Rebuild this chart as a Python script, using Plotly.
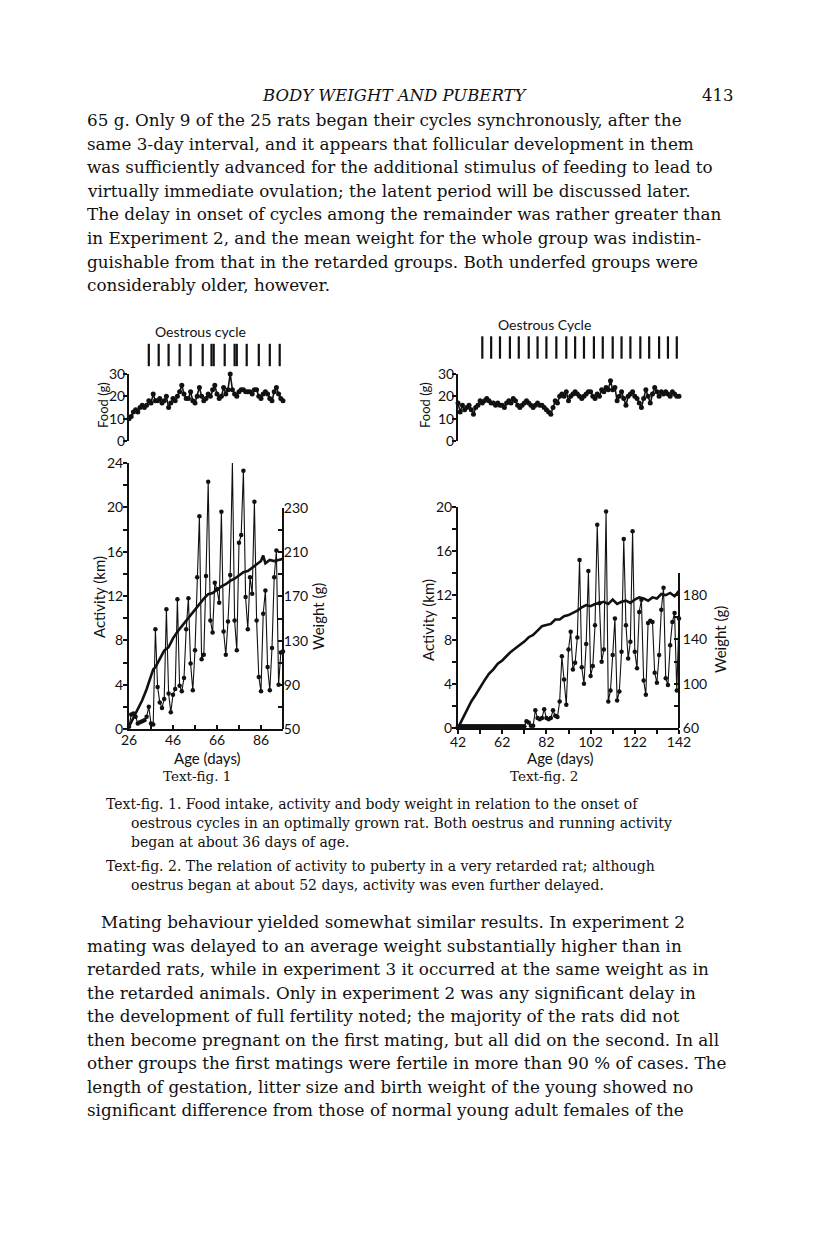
import plotly.graph_objects as go

W, H = 816, 1249
OFF = 8  # the page body margin shifts the whole figure by 8 px


def fx(px):
    return (px - OFF) / W


def fy(py):
    return 1 - (py - OFF) / H


# ---------------- Text-fig. 1 (optimally grown rat) ----------------
age1 = list(range(26, 97))
food1 = [10, 11, 13, 14, 13, 15, 16, 15, 16, 18,
         17, 21, 18, 18, 19, 17, 18, 20, 15, 17,
         19, 18, 20, 22, 25, 21, 19, 19, 22, 18,
         17, 20, 24, 20, 18, 19, 21, 20, 23, 25,
         21, 19, 20, 24, 21, 23, 30, 23, 21, 20,
         22, 23, 23, 22, 22, 22, 21, 23, 23, 20,
         19, 21, 22, 21, 19, 18, 22, 24, 21, 19,
         18]
act1 = [0.2, 1.3, 1.4, 1.1, 0.5, 0.6, 0.7, 0.8, 1.1, 2.0,
        0.5, 0.4, 9.0, 3.8, 2.4, 1.9, 2.7, 10.8, 3.2, 1.5,
        3.1, 3.6, 11.7, 3.9, 3.4, 4.6, 9.0, 11.8, 5.9, 3.5,
        7.1, 13.7, 19.2, 6.3, 6.7, 13.8, 22.3, 9.8, 8.7, 13.2,
        12.6, 11.4, 19.6, 8.8, 6.7, 9.7, 13.9, 24.1, 9.8, 7.1,
        16.8, 17.5, 23.3, 11.9, 9.0, 13.7, 12.2, 20.5, 9.8, 4.7,
        3.4, 10.4, 12.5, 5.6, 3.5, 7.3, 13.7, 16.1, 4.0, 6.9,
        7.0]
wt1_age = [26, 28, 30, 31, 32, 34, 36, 37, 38, 40, 42, 44, 46, 48, 50, 52, 54,
           56, 58, 60, 62, 64, 66, 68, 70, 72, 74, 76, 78, 80, 82, 84, 86, 87,
           88, 90, 92, 94, 96]
wt1 = [52, 60, 68, 73, 76, 86, 98, 104, 106, 113, 121, 124, 132, 138, 143, 149,
       153, 159, 164, 168, 172, 173, 176, 179, 181, 184, 186, 189, 192, 193, 196,
       199, 202, 207, 200, 203, 202, 203, 204]
oestrus1 = [35, 39.5, 44, 49, 54, 59.5, 63.5, 64.5, 69.5, 74, 75, 79.5, 85, 90, 94.5]

# ---------------- Text-fig. 2 (very retarded rat) ----------------
age2 = list(range(42, 143))
food2 = [17, 13, 16, 14, 15, 16, 14, 12, 15, 16,
         18, 17, 18, 19, 18, 17, 17, 16, 17, 16,
         16, 15, 17, 18, 17, 19, 18, 16, 15, 16,
         17, 18, 17, 16, 15, 16, 17, 16, 16, 15,
         14, 13, 12, 15, 18, 17, 20, 21, 20, 22,
         18, 20, 21, 22, 21, 20, 19, 20, 21, 22,
         22, 20, 19, 21, 20, 23, 22, 24, 23, 27,
         23, 24, 18, 20, 22, 19, 16, 20, 21, 22,
         20, 19, 17, 15, 19, 23, 20, 17, 21, 24,
         22, 20, 22, 21, 22, 21, 20, 22, 21, 20,
         20]
act2 = [0.15] * 31 + [
    0.6, 0.5, 0.2, 0.2, 1.6, 0.9, 0.8, 0.9, 1.7, 0.9,
    0.8, 0.9, 1.6, 1.1, 1.0, 2.4, 6.5, 4.4, 2.1, 7.1,
    8.7, 5.3, 5.9, 8.2, 15.2, 5.5, 4.0, 7.6, 14.2, 4.7,
    5.6, 9.3, 18.4, 11.3, 6.0, 7.1, 19.6, 2.4, 3.4, 6.6,
    9.9, 2.5, 3.3, 6.9, 17.1, 9.3, 6.3, 7.8, 17.8, 6.9,
    5.4, 10.5, 11.6, 4.3, 3.0, 9.5, 9.7, 9.6, 5.0, 4.1,
    6.6, 10.7, 12.7, 4.5, 3.9, 7.5, 9.6, 10.4, 3.4, 9.9]
wt2_age = list(range(42, 143, 2))
wt2 = [60, 68, 76, 84, 90, 97, 103, 109, 113, 118, 121, 125, 129, 132, 135, 138,
       142, 144, 148, 152, 153, 154, 158, 158, 161, 162, 164, 166, 169, 171, 170,
       172, 173, 174, 172, 176, 172, 174, 175, 173, 176, 178, 177, 175, 178, 177,
       181, 180, 182, 179, 184]
oestrus2 = [53, 57, 61, 65.5, 69.5, 74, 78, 82, 86.5, 91, 95, 99, 103.5, 107.5,
            112, 116, 120, 124.5, 128.5, 133, 137, 141]

# ---------------- page text ----------------
header = "<i>BODY WEIGHT AND PUBERTY</i>"
page_no = "413"
para1 = [
    "65 g. Only 9 of the 25 rats began their cycles synchronously, after the",
    "same 3-day interval, and it appears that follicular development in them",
    "was sufficiently advanced for the additional stimulus of feeding to lead to",
    "virtually immediate ovulation; the latent period will be discussed later.",
    "The delay in onset of cycles among the remainder was rather greater than",
    "in Experiment 2, and the mean weight for the whole group was indistin-",
    "guishable from that in the retarded groups. Both underfed groups were",
    "considerably older, however.",
]
caption1 = [
    "Text-fig. 1. Food intake, activity and body weight in relation to the onset of",
    "oestrous cycles in an optimally grown rat. Both oestrus and running activity",
    "began at about 36 days of age.",
]
caption2 = [
    "Text-fig. 2. The relation of activity to puberty in a very retarded rat; although",
    "oestrus began at about 52 days, activity was even further delayed.",
]
para2 = [
    "Mating behaviour yielded somewhat similar results. In experiment 2",
    "mating was delayed to an average weight substantially higher than in",
    "retarded rats, while in experiment 3 it occurred at the same weight as in",
    "the retarded animals. Only in experiment 2 was any significant delay in",
    "the development of full fertility noted; the majority of the rats did not",
    "then become pregnant on the first mating, but all did on the second. In all",
    "other groups the first matings were fertile in more than 90 % of cases. The",
    "length of gestation, litter size and birth weight of the young showed no",
    "significant difference from those of normal young adult females of the",
]

SERIF = "DejaVu Serif"
SANS = "Lato"
INK = "#111111"

fig = go.Figure()


def series(x, y, xa, ya, width=1.3, msize=5, mode="lines+markers"):
    fig.add_trace(go.Scatter(
        x=x, y=y, xaxis=xa, yaxis=ya, mode=mode, cliponaxis=False,
        line=dict(color=INK, width=width),
        marker=dict(size=msize, color=INK),
        hoverinfo="x+y"))


def cycle_bars(x, xa, ya):
    fig.add_trace(go.Scatter(
        x=x, y=[0.5] * len(x), xaxis=xa, yaxis=ya, mode="markers",
        cliponaxis=False,
        marker=dict(symbol="line-ns", size=16, line=dict(color=INK, width=2.2))))


# Text-fig. 1
series(age1, food1, "x", "y3", width=1.6, msize=5)
series(age1, act1, "x", "y", width=1.1, msize=4.5)
series(wt1_age, wt1, "x", "y2", width=2.6, mode="lines")
cycle_bars(oestrus1, "x", "y4")

# Text-fig. 2
series(age2, food2, "x2", "y7", width=1.6, msize=5)
series(age2, act2, "x2", "y5", width=1.1, msize=4.5)
series(wt2_age, wt2, "x2", "y6", width=2.6, mode="lines")
cycle_bars(oestrus2, "x2", "y8")

tickfont = dict(family=SANS, size=14, color=INK)
axis = dict(showgrid=False, zeroline=False, showline=True, linecolor=INK,
            linewidth=2, ticks="outside", ticklen=4, tickwidth=2,
            tickcolor=INK, tickfont=tickfont, fixedrange=True,
            automargin=False, ticklabelstandoff=-3)


def minor(ticks="outside", **kw):
    return dict(ticks=ticks, ticklen=4, tickwidth=2, tickcolor=INK, **kw)


fig.update_layout(
    width=W, height=H,
    margin=dict(l=0, r=0, t=0, b=0, pad=0, autoexpand=False),
    paper_bgcolor="white", plot_bgcolor="rgba(0,0,0,0)",
    showlegend=False,
    # --- fig 1 ---
    xaxis=dict(axis, domain=[fx(129), fx(283)], range=[26, 96], anchor="y",
               tick0=26, dtick=20, ticks="inside",
               minor=minor("inside", tick0=26, dtick=10)),
    yaxis=dict(axis, domain=[fy(729), fy(463)], range=[0, 24], anchor="x",
               dtick=4, minor=minor(dtick=2)),
    yaxis2=dict(axis, domain=[fy(729), fy(508)], range=[50, 250],
                anchor="free", position=fx(283), side="right", ticks="inside",
                tickmode="array", tickvals=[50, 90, 130, 170, 210, 250],
                ticktext=["50", "90", "130", "170", "210", "230"],
                minor=minor("inside", tickmode="array",
                            tickvals=[70, 110, 150, 190, 230])),
    yaxis3=dict(axis, domain=[fy(441), fy(374)], range=[0, 30], anchor="x",
                dtick=10, ticklabelstandoff=-5),
    yaxis4=dict(domain=[fy(363), fy(347)], range=[0, 1], anchor="x",
                visible=False, fixedrange=True),
    # --- fig 2 ---
    xaxis2=dict(axis, domain=[fx(458), fx(679)], range=[42, 142], anchor="y5",
                tick0=42, dtick=20, ticklabelstandoff=-4,
                minor=minor(tick0=42, dtick=10)),
    yaxis5=dict(axis, domain=[fy(728), fy(507)], range=[0, 20], anchor="x2",
                dtick=4, minor=minor(dtick=2)),
    yaxis6=dict(axis, domain=[fy(728), fy(573)], range=[60, 200],
                anchor="free", position=fx(679), side="right", ticks="inside",
                tickmode="array", tickvals=[60, 100, 140, 180],
                ticklabelstandoff=0,
                minor=minor("inside", tickmode="array",
                            tickvals=[80, 120, 160, 200])),
    yaxis7=dict(axis, domain=[fy(441), fy(374)], range=[0, 30], anchor="x2",
                dtick=10, ticklabelstandoff=-5),
    yaxis8=dict(domain=[fy(355), fy(340)], range=[0, 1], anchor="x2",
                visible=False, fixedrange=True),
)

ann = []


def text(s, x, y, size, family=SERIF, xanchor="left", angle=0):
    ann.append(dict(text=s, x=fx(x), y=fy(y), xref="paper", yref="paper",
                    xanchor=xanchor, yanchor="middle", showarrow=False,
                    textangle=angle,
                    font=dict(family=family, size=size, color=INK)))


text(header, 395, 95, 16.5, xanchor="center")
text(page_no, 718, 95, 16.5, xanchor="center")
for i, line in enumerate(para1):
    text(line, 85, 120 + i * 23.6, 16.8)
for i, line in enumerate(caption1):
    text(line, 104 if i == 0 else 129, 804 + i * 19, 14)
for i, line in enumerate(caption2):
    text(line, 104 if i == 0 else 129, 866 + i * 19, 14)
for i, line in enumerate(para2):
    text(line, 99 if i == 0 else 85, 922 + i * 23.5, 16.8)

# chart labels
text("Oestrous cycle", 200, 332, 14, SANS, "center")
text("Oestrous Cycle", 544, 325, 14, SANS, "center")
text("Food (g)", 103, 405, 13, SANS, "center", -90)
text("Food (g)", 425, 405, 13, SANS, "center", -90)
text("Activity (km)", 99, 597, 15, SANS, "center", -90)
text("Activity (km)", 428, 620, 15, SANS, "center", -90)
text("Weight (g)", 318, 617, 15, SANS, "center", -90)
text("Weight (g)", 720, 640, 15, SANS, "center", -90)
text("Age (days)", 207, 758, 15, SANS, "center")
text("Age (days)", 560, 758, 15, SANS, "center")
text("Text-fig. 1", 197, 776, 13.5, SERIF, "center")
text("Text-fig. 2", 544, 776, 13.5, SERIF, "center")

fig.update_layout(annotations=ann)

fig.write_html("out.html")
